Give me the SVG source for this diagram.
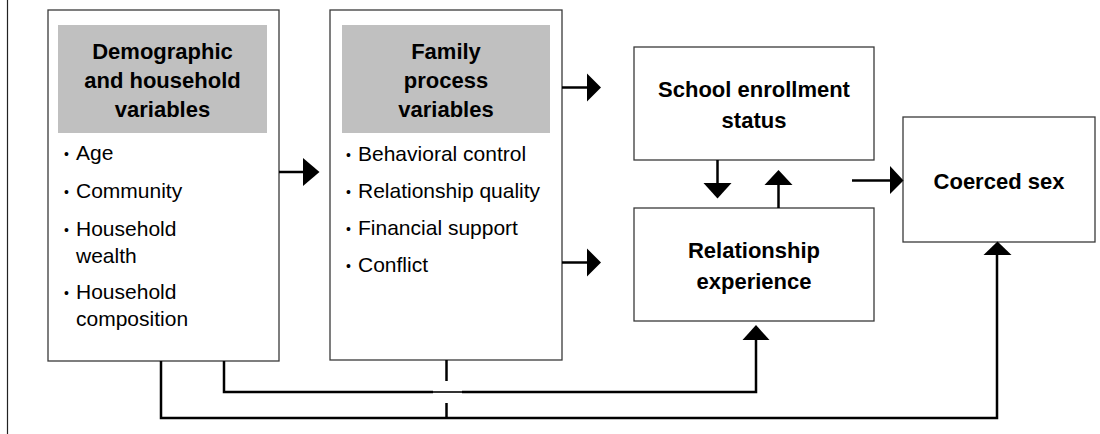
<svg xmlns="http://www.w3.org/2000/svg" width="1100" height="434" viewBox="0 0 1100 434">
<defs>
<style>
.box{fill:#fff;stroke:#3a3a3a;stroke-width:1.3}
.hdr{fill:#c0c0c0;stroke:none}
.b{font-family:"Liberation Sans",Arial,sans-serif;font-weight:bold;font-size:22px;fill:#000;text-anchor:middle}
.r{font-family:"Liberation Sans",Arial,sans-serif;font-size:21px;fill:#000}
.d{font-size:14px}
.c{fill:none;stroke:#000;stroke-width:2.5}
.h{fill:#000;stroke:none}
</style>
</defs>
<rect width="1100" height="434" fill="#fff"/>
<line x1="7.5" y1="0" x2="7.5" y2="434" stroke="#222" stroke-width="1.2"/>

<g id="node-demographic">
<rect class="box" x="48" y="10" width="231" height="351"/>
<rect class="hdr" x="58" y="25" width="209" height="108"/>
<text class="b" x="162.5" y="59">Demographic</text>
<text class="b" x="162.5" y="88">and household</text>
<text class="b" x="162.5" y="117">variables</text>
<text class="r" y="160"><tspan class="d" x="64" dy="-1">•</tspan><tspan x="76" dy="1">Age</tspan></text>
<text class="r" y="198"><tspan class="d" x="64" dy="-1">•</tspan><tspan x="76" dy="1">Community</tspan></text>
<text class="r" y="236"><tspan class="d" x="64" dy="-1">•</tspan><tspan x="76" dy="1">Household</tspan></text>
<text class="r" x="76" y="263">wealth</text>
<text class="r" y="299"><tspan class="d" x="64" dy="-1">•</tspan><tspan x="76" dy="1">Household</tspan></text>
<text class="r" x="76" y="326">composition</text>
</g>

<g id="node-family">
<rect class="box" x="330" y="10" width="232" height="350"/>
<rect class="hdr" x="342" y="25" width="208" height="108"/>
<text class="b" x="446" y="59">Family</text>
<text class="b" x="446" y="88">process</text>
<text class="b" x="446" y="117">variables</text>
<text class="r" y="161"><tspan class="d" x="346" dy="-1">•</tspan><tspan x="358" dy="1">Behavioral control</tspan></text>
<text class="r" y="198"><tspan class="d" x="346" dy="-1">•</tspan><tspan x="358" dy="1">Relationship quality</tspan></text>
<text class="r" y="235"><tspan class="d" x="346" dy="-1">•</tspan><tspan x="358" dy="1">Financial support</tspan></text>
<text class="r" y="272"><tspan class="d" x="346" dy="-1">•</tspan><tspan x="358" dy="1">Conflict</tspan></text>
</g>

<g id="node-school">
<rect class="box" x="634" y="47" width="240" height="113"/>
<text class="b" x="754" y="97">School enrollment</text>
<text class="b" x="754" y="128">status</text>
</g>

<g id="node-relationship">
<rect class="box" x="634" y="208" width="240" height="113"/>
<text class="b" x="754" y="258">Relationship</text>
<text class="b" x="754" y="289">experience</text>
</g>

<g id="node-coerced">
<rect class="box" x="903" y="117" width="192" height="125"/>
<text class="b" x="999" y="189">Coerced sex</text>
</g>

<g id="connectors">
<line class="c" x1="279" y1="172" x2="304" y2="172"/>
<polygon class="h" points="303,158 319.5,172 303,186"/>
<line class="c" x1="562" y1="87.5" x2="588" y2="87.5"/>
<polygon class="h" points="587,73.5 601,87.5 587,101.5"/>
<line class="c" x1="562" y1="262.5" x2="588" y2="262.5"/>
<polygon class="h" points="587,248.5 601,262.5 587,276.5"/>
<line class="c" x1="717.5" y1="160" x2="717.5" y2="184"/>
<polygon class="h" points="703.5,183 731.5,183 717.5,198.5"/>
<line class="c" x1="778.5" y1="208" x2="778.5" y2="184"/>
<polygon class="h" points="764.5,185 792.5,185 778.5,170"/>
<line class="c" x1="852" y1="180.5" x2="891" y2="180.5"/>
<polygon class="h" points="890,166 903.5,180.5 890,194"/>
<polyline class="c" points="224,361 224,392 433,392"/>
<line x1="433" y1="392" x2="462" y2="392" stroke="#000" stroke-width="1.6"/>
<polyline class="c" points="462,392 756,392 756,339"/>
<polygon class="h" points="742.5,340 769.5,340 756,325"/>
<line class="c" x1="446.5" y1="360" x2="446.5" y2="381"/>
<line class="c" x1="446.5" y1="403" x2="446.5" y2="418"/>
<polyline class="c" points="161,361 161,418 997,418 997,254"/>
<polygon class="h" points="983.5,255 1011.5,255 997.5,241.5"/>
</g>
</svg>
